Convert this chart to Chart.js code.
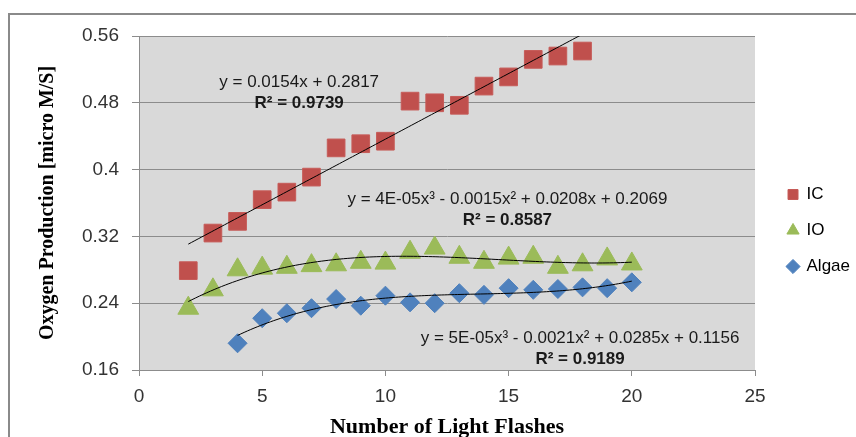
<!DOCTYPE html>
<html>
<head>
<meta charset="utf-8">
<script src="https://cdn.jsdelivr.net/npm/chart.js@4.4.0/dist/chart.umd.min.js"></script>
<style>
  body { margin: 0; overflow: hidden; background: #fff; }
  #wrap { position: absolute; left: 0; top: 0; width: 880px; height: 470px; }
</style>
</head>
<body>
<div id="wrap"><canvas id="oxygen" width="880" height="470"></canvas></div>
<script>
// number of light flashes for each series
const icFlashes = [2, 3, 4, 5, 6, 7, 8, 9, 10, 11, 12, 13, 14, 15, 16, 17, 18];
const ioFlashes = [2, 3, 4, 5, 6, 7, 8, 9, 10, 11, 12, 13, 14, 15, 16, 17, 18, 19, 20];
const algaeFlashes = [4, 5, 6, 7, 8, 9, 10, 11, 12, 13, 14, 15, 16, 17, 18, 19, 20];

// oxygen production [micro M/S]
const icValues = [0.279, 0.324, 0.338, 0.364, 0.373, 0.391, 0.426, 0.431, 0.434, 0.482, 0.480, 0.477, 0.500, 0.511, 0.532, 0.536, 0.542];
const ioValues = [0.234, 0.256, 0.280, 0.282, 0.283, 0.285, 0.286, 0.289, 0.288, 0.301, 0.306, 0.295, 0.289, 0.294, 0.295, 0.283, 0.286, 0.293, 0.287];
const algaeValues = [0.192, 0.222, 0.228, 0.234, 0.245, 0.237, 0.249, 0.241, 0.240, 0.252, 0.250, 0.258, 0.256, 0.257, 0.259, 0.258, 0.265];

const xTicks = [0, 5, 10, 15, 20, 25];
const yTicks = [0.16, 0.24, 0.32, 0.4, 0.48, 0.56];

// trendline labels shown on the chart
const icEquation = ['y = 0.0154x + 0.2817', 'R² = 0.9739'];
const ioEquation = ['y = 4E-05x³ - 0.0015x² + 0.0208x + 0.2069', 'R² = 0.8587'];
const algaeEquation = ['y = 5E-05x³ - 0.0021x² + 0.0285x + 0.1156', 'R² = 0.9189'];

const sans = 'Liberation Sans';
const serif = 'Liberation Serif';

function toPoints(xs, ys) {
  return xs.map((x, i) => ({ x: x, y: ys[i] }));
}

// least squares polynomial fit, gives c0..cn
function polyFit(xs, ys, degree) {
  const n = degree + 1;
  const m = [];
  for (let r = 0; r < n; r++) {
    const row = [];
    for (let c = 0; c < n; c++) {
      row.push(xs.reduce((s, x) => s + Math.pow(x, r + c), 0));
    }
    row.push(xs.reduce((s, x, i) => s + Math.pow(x, r) * ys[i], 0));
    m.push(row);
  }
  for (let p = 0; p < n; p++) {
    let best = p;
    for (let r = p + 1; r < n; r++) {
      if (Math.abs(m[r][p]) > Math.abs(m[best][p])) best = r;
    }
    [m[p], m[best]] = [m[best], m[p]];
    for (let r = 0; r < n; r++) {
      if (r === p) continue;
      const f = m[r][p] / m[p][p];
      for (let c = p; c <= n; c++) m[r][c] -= f * m[p][c];
    }
  }
  return m.map((row, i) => row[n] / row[i]);
}

const trends = [
  { xs: icFlashes, ys: icValues, degree: 1, label: icEquation, at: { x: 6.5, y: 0.505 } },
  { xs: ioFlashes, ys: ioValues, degree: 3, label: ioEquation, at: { x: 14.95, y: 0.364 } },
  { xs: algaeFlashes, ys: algaeValues, degree: 3, label: algaeEquation, at: { x: 17.9, y: 0.198 } }
];

const trendPlugin = {
  id: 'trend',
  beforeDraw(chart) {
    const { ctx, chartArea } = chart;
    ctx.save();
    ctx.fillStyle = '#d9d9d9';
    ctx.fillRect(chartArea.left, chartArea.top, chartArea.right - chartArea.left, chartArea.bottom - chartArea.top);
    // outer frame of the figure
    ctx.strokeStyle = '#8a8a8a';
    ctx.lineWidth = 2;
    ctx.strokeRect(9, 14, 1000, 1000);
    ctx.restore();
  },
  afterLayout(chart) {
    // legend sits a little further in than chart.js puts it
    const lg = chart.legend;
    lg.left += 14; lg.right += 14;
    lg.top -= 8; lg.bottom -= 8;
  },
  afterDatasetsDraw(chart) {
    const { ctx, chartArea, scales } = chart;
    const sx = scales.x, sy = scales.y;
    ctx.save();
    ctx.beginPath();
    ctx.rect(chartArea.left, chartArea.top, chartArea.right - chartArea.left, chartArea.bottom - chartArea.top);
    ctx.clip();
    ctx.strokeStyle = '#000';
    ctx.lineWidth = 1;
    trends.forEach(t => {
      const c = polyFit(t.xs, t.ys, t.degree);
      const x0 = Math.min(...t.xs), x1 = Math.max(...t.xs);
      ctx.beginPath();
      for (let k = 0; k <= 120; k++) {
        const xv = x0 + (x1 - x0) * k / 120;
        const yv = c.reduce((s, ci, i) => s + ci * Math.pow(xv, i), 0);
        const px = sx.getPixelForValue(xv), py = sy.getPixelForValue(yv);
        if (k === 0) ctx.moveTo(px, py); else ctx.lineTo(px, py);
      }
      ctx.stroke();
    });
    ctx.restore();

    ctx.save();
    ctx.fillStyle = '#1a1a1a';
    ctx.textAlign = 'center';
    ctx.textBaseline = 'middle';
    trends.forEach(t => {
      const px = sx.getPixelForValue(t.at.x), py = sy.getPixelForValue(t.at.y);
      ctx.font = '17px "' + sans + '"';
      ctx.fillText(t.label[0], px, py);
      ctx.font = 'bold 17px "' + sans + '"';
      ctx.fillText(t.label[1], px, py + 21);
    });
    ctx.restore();
  }
};

const ctx = document.getElementById('oxygen').getContext('2d');

const oxygenChart = new Chart(ctx, {
  type: 'scatter',
  data: {
    datasets: [{
      label: 'IC',
      data: toPoints(icFlashes, icValues),
      pointStyle: 'rect',
      pointRadius: 12.5,
      backgroundColor: '#c0504d',
      borderColor: '#c65b58',
      borderWidth: 1
    }, {
      label: 'IO',
      data: toPoints(ioFlashes, ioValues),
      pointStyle: 'triangle',
      pointRadius: 12,
      backgroundColor: '#9bbb59',
      borderColor: '#9bbb59',
      borderWidth: 1
    }, {
      label: 'Algae',
      data: toPoints(algaeFlashes, algaeValues),
      pointStyle: 'rectRot',
      pointRadius: 9.5,
      backgroundColor: '#4f81bd',
      borderColor: '#4f81bd',
      borderWidth: 1
    }]
  },
  options: {
    responsive: false,
    animation: false,
    layout: {
      padding: { left: 10, top: 36, right: 34, bottom: 29 }
    },
    plugins: {
      tooltip: { enabled: false },
      legend: {
        position: 'right',
        labels: {
          usePointStyle: true,
          boxWidth: 10,
          boxHeight: 10,
          padding: 19,
          color: '#000',
          font: { family: sans, size: 17 }
        }
      }
    },
    scales: {
      x: {
        type: 'linear',
        min: 0,
        max: 25,
        afterBuildTicks: s => { s.ticks = xTicks.map(v => ({ value: v })); },
        afterFit: s => { s.height = 71; },
        grid: { drawOnChartArea: false, tickLength: 6, color: '#8c8c8c' },
        border: { color: '#8c8c8c', width: 1 },
        ticks: { color: '#333', padding: 9, font: { family: sans, size: 19 } },
        title: {
          display: true,
          text: 'Number of Light Flashes',
          color: '#000',
          padding: 0,
          font: { family: serif, size: 22, weight: 'bold' }
        }
      },
      y: {
        min: 0.16,
        max: 0.56,
        afterBuildTicks: s => { s.ticks = yTicks.map(v => ({ value: v })); },
        afterFit: s => { s.width = 129; },
        grid: { color: '#8c8c8c', tickLength: 7 },
        border: { color: '#8c8c8c', width: 1 },
        ticks: {
          color: '#333',
          padding: 13,
          font: { family: sans, size: 19 },
          callback: v => String(+v.toFixed(2))
        },
        title: {
          display: true,
          text: 'Oxygen Production [micro M/S]',
          color: '#000',
          padding: { top: 26 },
          font: { family: serif, size: 20, weight: 'bold' }
        }
      }
    }
  },
  plugins: [trendPlugin]
});
</script>
</body>
</html>
